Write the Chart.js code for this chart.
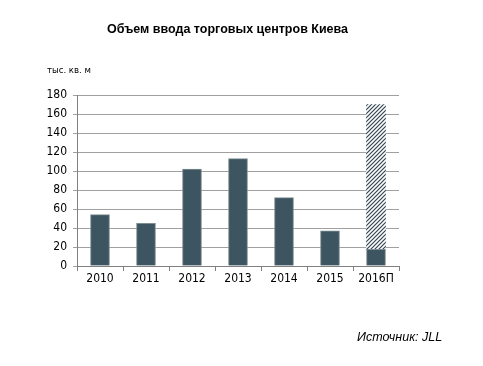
<!DOCTYPE html>
<html><head><meta charset="utf-8">
<script src="https://cdn.jsdelivr.net/npm/chart.js@4"></script>
<style>
html,body{margin:0;padding:0;background:#fff;}
#wrap{position:relative;width:483px;height:366px;}
canvas{position:absolute;left:0;top:0;}
.t{position:absolute;white-space:nowrap;color:#000;}
#title{left:0;width:455px;top:22px;text-align:center;font:bold 12.5px "Liberation Sans",Arial,sans-serif;}
#unit{left:47px;top:64px;font:9.5px "DejaVu Sans Condensed","Liberation Sans",sans-serif;}
#src{left:357px;top:330px;font:italic 12.5px "Liberation Sans",Arial,sans-serif;}
</style></head>
<body><div id="wrap">
<canvas id="c" width="483" height="366"></canvas>
<div class="t" id="title">Объем ввода торговых центров Киева</div>
<div class="t" id="unit">тыс. кв. м</div>
<div class="t" id="src">Источник: JLL</div>
</div>
<script>
const categories = ["2010","2011","2012","2013","2014","2015","2016П"];
const actualValues = [54,45,102,113,72,37,17.5];
const forecastValues = [null,null,null,null,null,null,152.5];
const yTicks = [0,20,40,60,80,100,120,140,160,180];

function hatch(){
  const p=document.createElement('canvas');p.width=4;p.height=4;
  const g=p.getContext('2d');
  g.fillStyle='#fff';g.fillRect(0,0,4,4);
  g.strokeStyle='#2f4550';g.lineWidth=1.2;
  g.beginPath();
  g.moveTo(0,4);g.lineTo(4,0);
  g.moveTo(-1,1);g.lineTo(1,-1);
  g.moveTo(3,5);g.lineTo(5,3);
  g.stroke();
  return g.createPattern(p,'repeat');
}
const ctx=document.getElementById('c').getContext('2d');
const tickFont={family:'"DejaVu Sans Condensed","Liberation Sans",sans-serif',size:12};
new Chart(ctx,{
  type:'bar',
  data:{labels:categories,datasets:[
    {data:actualValues,backgroundColor:'#3d5560',borderColor:'#7d8c92',borderWidth:1,barThickness:19,stack:'s'},
    {data:forecastValues,backgroundColor:hatch(),borderWidth:0,barThickness:19,stack:'s'}
  ]},
  options:{
    responsive:false,animation:false,
    layout:{padding:{left:0,right:84,top:95,bottom:0}},
    plugins:{legend:{display:false},tooltip:{enabled:false},title:{display:false}},
    scales:{
      x:{stacked:true,offset:true,
        grid:{display:true,drawOnChartArea:false,color:'#808080',tickLength:5,offset:true},
        border:{display:true,color:'#808080'},
        ticks:{color:'#000',font:tickFont,padding:1},
        afterFit:s=>{s.height=100;}
      },
      y:{stacked:true,min:0,max:180,
        afterBuildTicks:s=>{s.ticks=yTicks.map(v=>({value:v}));},
        grid:{color:'#a0a0a0',lineWidth:1,tickLength:4},
        border:{display:true,color:'#808080'},
        ticks:{color:'#000',font:tickFont,padding:6},
        afterFit:s=>{s.width=77;}
      }
    }
  }
});
</script>
</body></html>
